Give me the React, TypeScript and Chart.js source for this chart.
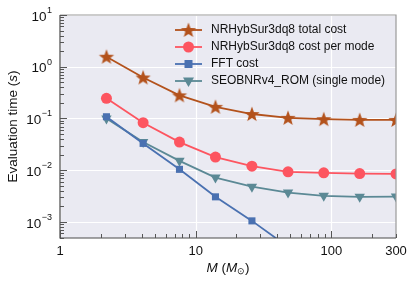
import React, { useEffect, useRef } from "react";
import { Chart, registerables } from "chart.js";

Chart.register(...registerables);

const masses = [2.2, 4.1, 7.6, 14, 26, 48, 88, 162, 300];
const totalCost = [1.56, 0.62, 0.28, 0.168, 0.122, 0.103, 0.097, 0.094, 0.094];
const perModeCost = [0.245, 0.083, 0.035, 0.018, 0.012, 0.0093, 0.0089, 0.0086, 0.0085];
const fftCost = [0.108, 0.033, 0.0104, 0.00306, 0.00105, 0.00033];
const seobCost = [0.1, 0.035, 0.0152, 0.0072, 0.0048, 0.0037, 0.0032, 0.00306, 0.0031];

const seriesNames = [
  "NRHybSur3dq8 total cost",
  "NRHybSur3dq8 cost per mode",
  "FFT cost",
  "SEOBNRv4_ROM (single mode)",
];
const colors = ["#b3521c", "#fd5560", "#4a71b1", "#5b8995"];
const xMajor = [1, 10, 100];
const xLabels = [1, 10, 100, 300];
const yExponents = [-3, -2, -1, 0, 1];

const FONT = "'Liberation Sans', Arial, sans-serif";

function makeStar(color: string, R: number) {
  const c = document.createElement("canvas");
  const s = Math.ceil(R * 2 + 2);
  c.width = s;
  c.height = s;
  const g = c.getContext("2d")!;
  const cx = s / 2;
  const cy = s / 2 + 0.6;
  const r = R * 0.42;
  g.beginPath();
  for (let i = 0; i < 10; i++) {
    const rad = i % 2 === 0 ? R : r;
    const a = -Math.PI / 2 + (i * Math.PI) / 5;
    const px = cx + rad * Math.cos(a);
    const py = cy + rad * Math.sin(a);
    if (i === 0) g.moveTo(px, py);
    else g.lineTo(px, py);
  }
  g.closePath();
  g.fillStyle = color;
  g.fill();
  return c;
}

export default function App() {
  const ref = useRef<HTMLCanvasElement>(null);
  useEffect(() => {
    const star = makeStar(colors[0], 8);
    const pts = (ys: number[]) => ys.map((y, i) => ({ x: masses[i], y }));
    const styles: any[] = [
      { pointStyle: star, pointRadius: 8 },
      { pointStyle: "circle", pointRadius: 5.5 },
      { pointStyle: "rect", pointRadius: 5 },
      { pointStyle: "triangle", pointRadius: 6, pointRotation: 180 },
    ];
    const all = [totalCost, perModeCost, fftCost, seobCost];

    const decoPlugin = {
      id: "deco",
      beforeDatasetsDraw(chart: any) {
        const { ctx, chartArea: a, scales } = chart;
        const xs = scales.x, ys = scales.y;
        ctx.save();
        ctx.fillStyle = "#eaeaf2";
        ctx.fillRect(a.left, a.top, a.right - a.left, a.bottom - a.top);
        ctx.strokeStyle = "#ffffff";
        ctx.lineWidth = 1.2;
        for (const e of yExponents) {
          const y = Math.round(ys.getPixelForValue(Math.pow(10, e))) + 0.5;
          ctx.beginPath();
          ctx.moveTo(a.left, y);
          ctx.lineTo(a.right, y);
          ctx.stroke();
        }
        for (const v of xMajor) {
          const x = Math.round(xs.getPixelForValue(v)) + 0.5;
          ctx.beginPath();
          ctx.moveTo(x, a.top);
          ctx.lineTo(x, a.bottom);
          ctx.stroke();
        }
        ctx.restore();
      },
      afterDraw(chart: any) {
        const { ctx, chartArea: a, scales } = chart;
        const xs = scales.x, ys = scales.y;
        ctx.save();
        // frame
        ctx.lineWidth = 1.2;
        ctx.strokeStyle = "#9a9a9a";
        ctx.beginPath();
        ctx.moveTo(a.left, a.top);
        ctx.lineTo(a.right, a.top);
        ctx.lineTo(a.right, a.bottom);
        ctx.stroke();
        ctx.strokeStyle = "#4a4a4a";
        ctx.beginPath();
        ctx.moveTo(a.left, a.top);
        ctx.lineTo(a.left, a.bottom);
        ctx.lineTo(a.right, a.bottom);
        ctx.stroke();
        // ticks
        ctx.strokeStyle = "#555555";
        ctx.lineWidth = 1;
        for (let e = -4; e <= 1; e++) {
          for (let m = 1; m <= 9; m++) {
            const v = m * Math.pow(10, e);
            if (v < ys.min || v > ys.max) continue;
            const y = Math.round(ys.getPixelForValue(v)) + 0.5;
            const len = m === 1 ? 7 : 4;
            ctx.beginPath();
            ctx.moveTo(a.left, y);
            ctx.lineTo(a.left + len, y);
            ctx.stroke();
          }
        }
        for (let e = 0; e <= 2; e++) {
          for (let m = 1; m <= 9; m++) {
            const v = m * Math.pow(10, e);
            if (v < xs.min || v > xs.max) continue;
            const x = Math.round(xs.getPixelForValue(v)) + 0.5;
            const len = m === 1 ? 7 : 4;
            ctx.beginPath();
            ctx.moveTo(x, a.bottom);
            ctx.lineTo(x, a.bottom - len);
            ctx.stroke();
          }
        }
        // x labels
        ctx.fillStyle = "#111111";
        ctx.font = `13px ${FONT}`;
        ctx.textAlign = "center";
        ctx.textBaseline = "middle";
        for (const v of xLabels) {
          ctx.fillText(String(v), xs.getPixelForValue(v), a.bottom + 13);
        }
        // y labels
        for (const e of yExponents) {
          const y = ys.getPixelForValue(Math.pow(10, e));
          const sup = e < 0 ? "\u2212" + Math.abs(e) : String(e);
          ctx.font = `9px ${FONT}`;
          const sw = ctx.measureText(sup).width;
          const right = a.left - 8;
          ctx.textAlign = "left";
          ctx.textBaseline = "middle";
          ctx.fillText(sup, right - sw, y - 4.5);
          ctx.font = `13.5px ${FONT}`;
          ctx.textAlign = "right";
          ctx.fillText("10", right - sw - 0.5, y + 2);
        }
        // y title
        ctx.save();
        ctx.translate(13, (a.top + a.bottom) / 2);
        ctx.rotate(-Math.PI / 2);
        ctx.textBaseline = "middle";
        const parts1: [string, string][] = [
          ["Evaluation time (", `13.5px ${FONT}`],
          ["s", `italic 13.5px ${FONT}`],
          [")", `13.5px ${FONT}`],
        ];
        let tw = 0;
        for (const [t, f] of parts1) { ctx.font = f; tw += ctx.measureText(t).width; }
        let cx = -tw / 2;
        ctx.textAlign = "left";
        for (const [t, f] of parts1) {
          ctx.font = f;
          ctx.fillText(t, cx, 0);
          cx += ctx.measureText(t).width;
        }
        ctx.restore();
        // x title
        const parts2: [string, string, number][] = [
          ["M", `italic 13.5px ${FONT}`, 0],
          [" (", `13.5px ${FONT}`, 0],
          ["M", `italic 13.5px ${FONT}`, 0],
          ["\u2299", `8.5px ${FONT}`, 3.5],
          [")", `13.5px ${FONT}`, 0],
        ];
        tw = 0;
        for (const [t, f] of parts2) { ctx.font = f; tw += ctx.measureText(t).width; }
        cx = (a.left + a.right) / 2 - tw / 2;
        ctx.textAlign = "left";
        ctx.textBaseline = "middle";
        for (const [t, f, dy] of parts2) {
          ctx.font = f;
          ctx.fillText(t, cx, a.bottom + 30 + dy);
          cx += ctx.measureText(t).width;
        }
        // legend
        const lx0 = a.left + 115, lx1 = lx0 + 27, tx = lx0 + 36;
        chart.data.datasets.forEach((ds: any, i: number) => {
          const y = a.top + 15 + i * 17;
          ctx.strokeStyle = ds.borderColor;
          ctx.lineWidth = ds.borderWidth;
          ctx.beginPath();
          ctx.moveTo(lx0, y);
          ctx.lineTo(lx1, y);
          ctx.stroke();
          const mx = (lx0 + lx1) / 2;
          ctx.fillStyle = ds.backgroundColor;
          if (i === 0) {
            ctx.drawImage(star, mx - star.width / 2, y - star.height / 2);
          } else if (i === 1) {
            ctx.beginPath();
            ctx.arc(mx, y, 5.5, 0, Math.PI * 2);
            ctx.fill();
          } else if (i === 2) {
            ctx.fillRect(mx - 4, y - 4, 8, 8);
          } else {
            ctx.beginPath();
            ctx.moveTo(mx - 5.5, y - 3.5);
            ctx.lineTo(mx + 5.5, y - 3.5);
            ctx.lineTo(mx, y + 6);
            ctx.closePath();
            ctx.fill();
          }
          ctx.fillStyle = "#111111";
          ctx.font = `12px ${FONT}`;
          ctx.textAlign = "left";
          ctx.textBaseline = "middle";
          ctx.fillText(ds.label, tx, y);
        });
        ctx.restore();
      },
    };

    const chart = new Chart(ref.current!, {
      type: "line",
      data: {
        datasets: all.map((ys, i) => ({
          label: seriesNames[i],
          data: pts(ys),
          borderColor: colors[i],
          backgroundColor: colors[i],
          pointBackgroundColor: colors[i],
          pointBorderColor: colors[i],
          pointBorderWidth: 0,
          borderWidth: 1.8,
          tension: 0,
          ...styles[i],
        })),
      },
      options: {
        animation: false,
        responsive: false,
        maintainAspectRatio: false,
        layout: { padding: { top: 15, right: 19, left: 0, bottom: 0 } },
        plugins: { legend: { display: false }, tooltip: { enabled: false } },
        scales: {
          x: {
            type: "logarithmic",
            min: 1,
            max: 300,
            grid: { display: false },
            border: { display: false },
            ticks: { display: false },
            afterFit: (s: any) => { s.height = 45; },
          },
          y: {
            type: "logarithmic",
            min: 4.9e-4,
            max: 10,
            grid: { display: false },
            border: { display: false },
            ticks: { display: false },
            afterFit: (s: any) => { s.width = 60; },
          },
        },
      },
      plugins: [decoPlugin],
    } as any);
    return () => chart.destroy();
  }, []);
  return (
    <div style={{ position: "fixed", left: 0, top: 0, width: 415, height: 283, background: "#fff" }}>
      <canvas ref={ref} width={415} height={283} style={{ width: 415, height: 283 }} />
    </div>
  );
}
